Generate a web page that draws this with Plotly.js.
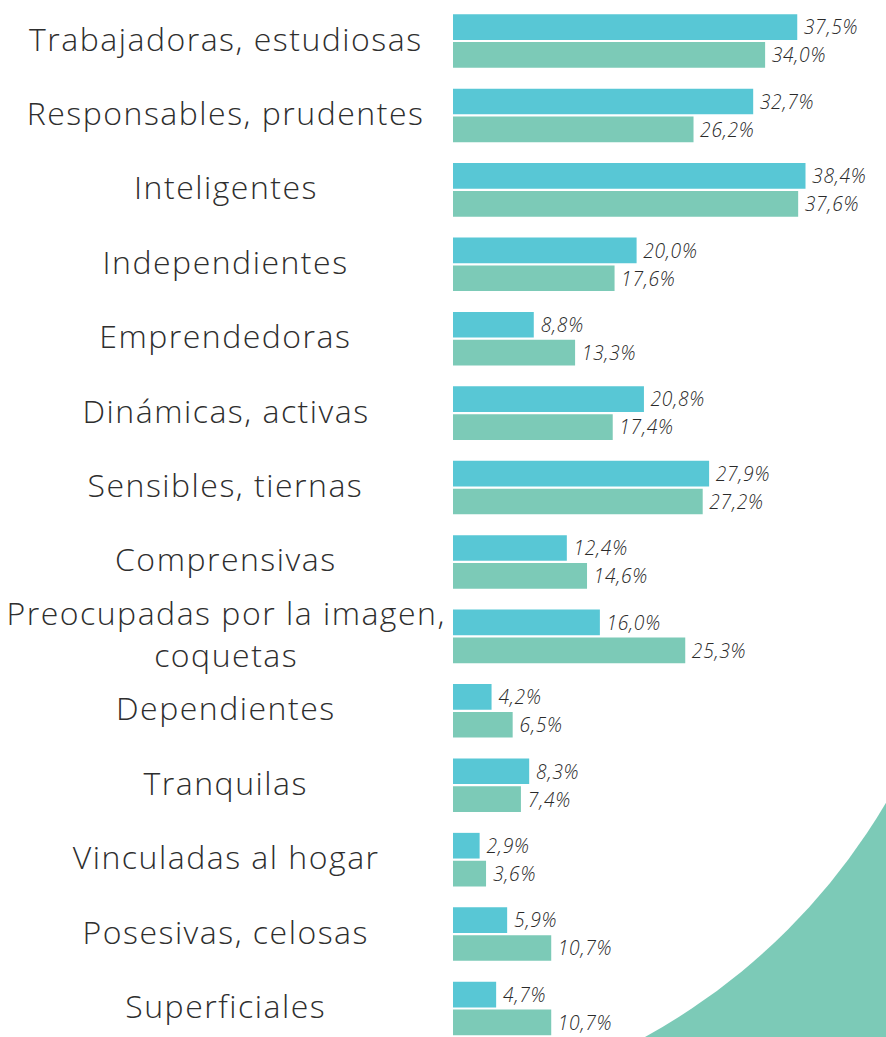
<!DOCTYPE html>
<html><head><meta charset="utf-8">
<script src="https://cdn.plot.ly/plotly-3.0.1.min.js"></script>
<style>
html,body{margin:0;padding:0;background:#fff;}
#chart{width:886px;height:1037px;}
#chart .annotation-text{letter-spacing:1.5px;}
#chart .bartext{letter-spacing:0.8px;}
</style>
</head><body><div id="chart"></div>
<script>
const categories = ["Trabajadoras, estudiosas","Responsables, prudentes","Inteligentes","Independientes","Emprendedoras","Dinámicas, activas","Sensibles, tiernas","Comprensivas","Preocupadas por la imagen,<br>coquetas","Dependientes","Tranquilas","Vinculadas al hogar","Posesivas, celosas","Superficiales"];
const seriesA = [37.5,32.7,38.4,20.0,8.8,20.8,27.9,12.4,16.0,4.2,8.3,2.9,5.9,4.7];
const seriesB = [34.0,26.2,37.6,17.6,13.3,17.4,27.2,14.6,25.3,6.5,7.4,3.6,10.7,10.7];

const fmt = v => '\u00a0' + v.toFixed(1).replace('.', ',') + '%';
const idx = categories.map((c,i)=>i);
const W = 886, H = 1037, L = 453;
const pw = W - L;
const px = x => (x - L) / pw;
const py = y => 1 - y / H;

const textFont = {family:'"Open Sans", sans-serif', size:21, weight:300, color:'#2a2a2a', style:'italic'};
const traces = [
  {type:'bar', orientation:'h', y:idx, x:seriesA, name:'A', marker:{color:'#58C7D5'},
   text:seriesA.map(fmt), textposition:'outside', textfont:textFont, cliponaxis:false, hoverinfo:'none'},
  {type:'bar', orientation:'h', y:idx, x:seriesB, name:'B', marker:{color:'#7CCAB7'},
   text:seriesB.map(fmt), textposition:'outside', textfont:textFont, cliponaxis:false, hoverinfo:'none'}
];

const annotations = categories.map((c,i)=>({
  text:c, xref:'paper', yref:'y', x:px(226), y:i, yshift:3, xanchor:'center', yanchor:'middle',
  showarrow:false, font:{family:'"Open Sans", sans-serif', size:32, weight:300, color:'#2e2e2e'}
}));

// decorative corner
const cx = 338, cy = 480, r = 636;
const shapes = [
  {type:'rect', xref:'paper', yref:'paper', x0:px(560), x1:px(900), y0:py(1040), y1:py(760),
   fillcolor:'#7CCAB7', line:{width:0}, layer:'below'},
  {type:'circle', xref:'paper', yref:'paper', x0:px(cx-r), x1:px(cx+r), y0:py(cy+r), y1:py(cy-r),
   fillcolor:'#ffffff', line:{width:0}, layer:'below'}
];

const pitch = (1008.5 - 41) / 13;
const rTop = -41 / pitch;
const rBot = rTop + H / pitch;

Plotly.newPlot('chart', traces, {
  width:W, height:H, margin:{l:L, r:0, t:0, b:0},
  paper_bgcolor:'#ffffff', plot_bgcolor:'rgba(0,0,0,0)',
  barmode:'group', bargap:0.25, bargroupgap:0.08,
  showlegend:false,
  xaxis:{range:[0, pw/9.18], visible:false, fixedrange:true},
  yaxis:{range:[rBot, rTop], visible:false, fixedrange:true},
  annotations:annotations, shapes:shapes
}, {displayModeBar:false, staticPlot:true});
</script></body></html>
